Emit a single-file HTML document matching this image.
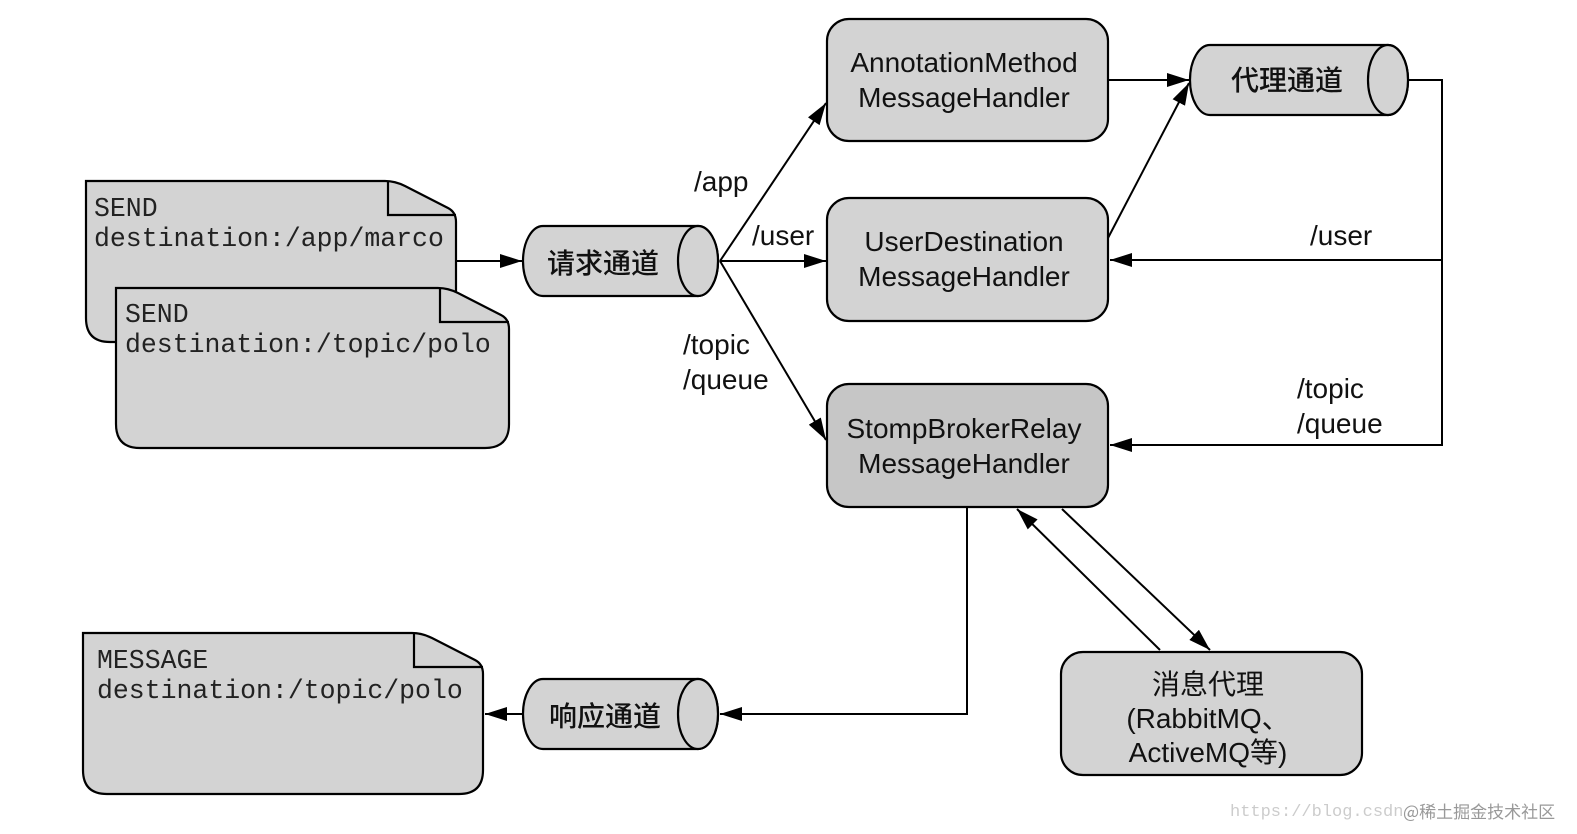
<!DOCTYPE html>
<html><head><meta charset="utf-8"><style>
body{margin:0;background:#fff}
svg{display:block}
.s{font-family:"Liberation Sans","Noto Sans CJK SC",sans-serif;font-size:28px;fill:#111}
.m{font-family:"Liberation Mono",monospace;font-size:26.5px;fill:#222}
.c{font-family:"Noto Sans CJK SC","WenQuanYi Zen Hei",sans-serif;font-size:28px;fill:#111;font-weight:500}
</style></head><body>
<svg width="1577" height="834" viewBox="0 0 1577 834" xmlns="http://www.w3.org/2000/svg">
<defs><marker id="a" markerWidth="22" markerHeight="14" refX="22" refY="7" orient="auto" markerUnits="userSpaceOnUse"><path d="M0,0 L22,7 L0,14 z" fill="#000"/></marker></defs>
<g stroke="#000" stroke-width="2.2" fill="#d3d3d3">
<path d="M86,181 H385 Q395,181 405,186 L448,208 Q456,212 456,222 V342 H110 Q86,342 86,318 Z"/>
<path d="M388,181 V215 H456" fill="none"/>
<path d="M116,288 H438 Q448,288 458,293 L501,315 Q509,319 509,329 V424 Q509,448 485,448 H140 Q116,448 116,424 Z"/>
<path d="M440,288 V322 H509" fill="none"/>
<path d="M83,633 H412 Q422,633 432,638 L475,660 Q483,664 483,674 V770 Q483,794 459,794 H107 Q83,794 83,770 Z"/>
<path d="M414,633 V667 H483" fill="none"/>
<path d="M543,226 H698 A20,35 0 0 1 698,296 H543 A20,35 0 0 1 543,226 Z"/>
<ellipse cx="698" cy="261" rx="20" ry="35"/>
<path d="M543,679 H698 A20,35 0 0 1 698,749 H543 A20,35 0 0 1 543,679 Z"/>
<ellipse cx="698" cy="714" rx="20" ry="35"/>
<path d="M1210,45 H1388 A20,35 0 0 1 1388,115 H1210 A20,35 0 0 1 1210,45 Z"/>
<ellipse cx="1388" cy="80" rx="20" ry="35"/>
<rect x="827" y="19" width="281" height="122" rx="22"/>
<rect x="827" y="198" width="281" height="123" rx="22"/>
<rect x="827" y="384" width="281" height="123" rx="22" fill="#c6c6c6"/>
<rect x="1061" y="652" width="301" height="123" rx="22"/>
</g>
<g stroke="#000" stroke-width="2" fill="none" marker-end="url(#a)">
<line x1="456" y1="261" x2="522" y2="261"/>
<line x1="720" y1="261" x2="826" y2="103"/>
<line x1="720" y1="261" x2="826" y2="261"/>
<line x1="720" y1="261" x2="826" y2="440"/>
<line x1="1108" y1="80" x2="1189" y2="80"/>
<line x1="1108" y1="238" x2="1189" y2="83"/>
<path d="M1408,80 H1442 V260 H1110"/>
<path d="M1442,255 V445 H1110"/>
<path d="M967,507 V714 H720"/>
<line x1="523" y1="714" x2="485" y2="714"/>
<line x1="1062" y1="509" x2="1210" y2="650"/>
<line x1="1160" y1="650" x2="1017" y2="509"/>
</g>
<g class="m">
<text x="94" y="216">SEND</text><text x="94" y="246">destination:/app/marco</text>
<text x="125" y="322">SEND</text><text x="125" y="352">destination:/topic/polo</text>
<text x="97" y="668">MESSAGE</text><text x="97" y="698">destination:/topic/polo</text>
</g>
<g class="c">
<text x="603" y="273" text-anchor="middle">请求通道</text>
<text x="605" y="726" text-anchor="middle">响应通道</text>
<text x="1287" y="90" text-anchor="middle">代理通道</text>
</g>
<g class="s" text-anchor="middle">
<text x="964" y="72">AnnotationMethod</text><text x="964" y="107">MessageHandler</text>
<text x="964" y="251">UserDestination</text><text x="964" y="286">MessageHandler</text>
<text x="964" y="438">StompBrokerRelay</text><text x="964" y="473">MessageHandler</text>
<text x="1208" y="694">消息代理</text><text x="1208" y="728">(RabbitMQ、</text><text x="1208" y="762">ActiveMQ等)</text>
</g>
<g class="s">
<text x="694" y="191">/app</text>
<text x="752" y="245">/user</text>
<text x="683" y="354">/topic</text><text x="683" y="389">/queue</text>
<text x="1310" y="245">/user</text>
<text x="1297" y="398">/topic</text><text x="1297" y="433">/queue</text>
</g>
<text x="1230" y="816" font-family="Liberation Mono,monospace" font-size="17" fill="#ccc">https://blog.csdn.</text>
<text x="1403" y="818" font-family="Noto Sans CJK SC,sans-serif" font-size="17" fill="#999">@稀土掘金技术社区</text>
</svg>
</body></html>
